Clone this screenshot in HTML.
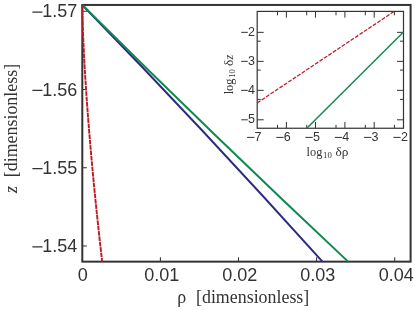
<!DOCTYPE html>
<html><head><meta charset="utf-8">
<style>
html,body{margin:0;padding:0;background:#fff;}
svg{display:block;will-change:transform;}
text{font-family:"Liberation Sans",sans-serif;fill:#333;}
.s text,text.s{font-family:"Liberation Serif",serif;}
</style></head><body>
<svg width="415" height="310" viewBox="0 0 415 310">
<rect width="415" height="310" fill="#fff"/>
<g stroke="#333" fill="none">
<rect x="82.3" y="4.95" width="328.3" height="256.7" stroke-width="2"/>
<g stroke-width="1.05">
<path d="M82.3 11.3h4.6M82.3 89.5h4.6M82.3 167.7h4.6M82.3 245.95h4.6"/>
<path d="M160.4 261.65v-4.4M238.5 261.65v-4.4M316.6 261.65v-4.4M394.7 261.65v-4.4"/>
</g></g>
<g fill="none" stroke-width="1.95">
<path d="M82.3 4.95 Q202.4 128.05 322.5 261.65" stroke="#2c2a80"/>
<path d="M82.3 4.95 Q215.2 136.79 348.1 261.65" stroke="#0a8a4c"/>
<path d="M82.30 4.95 L82.31 6.95 L82.35 9.95 L82.45 14.95 L82.58 19.95 L82.73 24.95 L83.09 34.95 L83.52 44.95 L84.27 59.95 L85.13 74.95 L86.42 94.95 L87.87 114.95 L89.46 134.95 L91.17 154.95 L93.00 174.95 L94.95 194.95 L97.00 214.95 L99.15 234.95 L100.82 249.95 L102.16 261.65" stroke="#be1a24" stroke-width="1.9" stroke-dasharray="4.7 0.7"/>
</g>
<g font-size="18" text-anchor="end">
<text x="77.3" y="17.40">1.57</text>
<text x="77.3" y="95.60">1.56</text>
<text x="77.3" y="173.80">1.55</text>
<text x="77.3" y="252.05">1.54</text>
</g>
<path d="M32.4 12.15h10.1M32.4 90.35h10.1M32.4 168.55h10.1M32.4 246.80h10.1" stroke="#333" stroke-width="1.35" fill="none"/>
<g font-size="18" text-anchor="middle">
<text x="82.8" y="281">0</text>
<text x="161.7" y="281">0.01</text>
<text x="239.7" y="281">0.02</text>
<text x="317.7" y="281">0.03</text>
<text x="396.2" y="281">0.04</text>
</g>
<g class="s" font-size="17.9">
<text x="177.3" y="303.3">ρ</text>
<text x="196" y="303.3">[dimensionless]</text>
<g transform="translate(16.7,193) rotate(-90)">
<text x="0" y="0" font-style="italic">z</text>
<text x="15.8" y="0">[dimensionless]</text>
</g>
</g>
<rect x="257.2" y="11.4" width="146.30" height="116.85" fill="#fff"/>
<g stroke="#333" fill="none">
<rect x="257.2" y="11.4" width="146.30" height="116.85" stroke-width="1.2"/>
<g stroke-width="1">
<path d="M257.2 32.35h6.5M403.5 32.35h-6.5M257.2 61.35h6.5M403.5 61.35h-6.5M257.2 90.35h6.5M403.5 90.35h-6.5M257.2 119.8h6.5M403.5 119.8h-6.5"/>
<path d="M257.2 41.2h3.5M403.5 41.2h-3.5M257.2 70.1h3.5M403.5 70.1h-3.5M257.2 99.4h3.5M403.5 99.4h-3.5"/>
<path d="M286.4 128.25v-6.3M286.4 11.4v6.3M315.5 128.25v-6.3M315.5 11.4v6.3M344.9 128.25v-6.3M344.9 11.4v6.3M374.2 128.25v-6.3M374.2 11.4v6.3"/>
<path d="M277.5 128.25v-3.4M277.5 11.4v3.9M306.7 128.25v-3.4M306.7 11.4v3.9M336.0 128.25v-3.4M336.0 11.4v3.9M365.3 128.25v-3.4M365.3 11.4v3.9M394.4 128.25v-3.4M394.4 11.4v3.9"/>
</g></g>
<g fill="none">
<path d="M257.2 102.9 L394.2 11.4" stroke="#be1a24" stroke-width="1.25" stroke-dasharray="3.9 1.45"/>
<path d="M306.8 128.25 L403.5 32" stroke="#0a8a4c" stroke-width="1.4"/>
</g>
<g font-size="12.5" text-anchor="end">
<text x="254.9" y="35.6">2</text>
<text x="254.9" y="64.6">3</text>
<text x="254.9" y="93.6">4</text>
<text x="254.9" y="122.7">5</text>
</g>
<path d="M241.2 32.35h6.6M241.2 61.35h6.6M241.2 90.35h6.6M241.2 119.8h6.6" stroke="#333" stroke-width="1" fill="none"/>
<g font-size="12.5">
<text x="254.60" y="141">7</text>
<text x="283.80" y="141">6</text>
<text x="312.90" y="141">5</text>
<text x="342.30" y="141">4</text>
<text x="371.60" y="141">3</text>
<text x="400.90" y="141">2</text>
</g>
<path d="M247.10 137.4h7.3M276.30 137.4h7.3M305.40 137.4h7.3M334.80 137.4h7.3M364.10 137.4h7.3M393.40 137.4h7.3" stroke="#333" stroke-width="1" fill="none"/>
<g class="s">
<text x="306.6" y="155.5" font-size="12.3">log</text>
<text x="323.1" y="158.1" font-size="8.8">10</text>
<text x="335.4" y="155.5" font-size="13.3">δρ</text>
<g transform="translate(232.8,94.3) rotate(-90)">
<text x="0" y="0" font-size="12.3">log</text>
<text x="16.5" y="2.6" font-size="8.8">10</text>
<text x="28.4" y="0" font-size="13.3">δ</text>
<text x="34.9" y="0" font-size="12.3" font-style="italic">z</text>
</g>
</g>
</svg>
</body></html>
